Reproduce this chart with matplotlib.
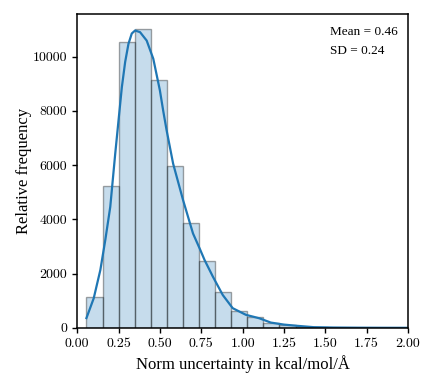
import matplotlib
matplotlib.use("Agg")
import matplotlib.pyplot as plt
import numpy as np

# Histogram data (20 bins)
bin_start = 0.056
bin_width = 0.0972
counts = [1155, 5214, 10528, 11022, 9140, 5952, 3863, 2460, 1330, 610,
          415, 172, 120, 40, 15, 8, 4, 2, 1, 1]

# KDE curve
kde_x = [0.056, 0.10, 0.14, 0.17, 0.20, 0.23, 0.25, 0.27, 0.29, 0.31, 0.33, 0.35,
         0.38, 0.42, 0.46, 0.50, 0.52, 0.54, 0.58, 0.64, 0.70, 0.74, 0.77, 0.82,
         0.88, 0.94, 1.02, 1.10, 1.17, 1.25, 1.33, 1.43, 1.55, 1.70, 1.85, 2.00]
kde_y = [360, 1090, 2130, 3240, 4460, 6420, 7650, 8870, 9800, 10470, 10850, 10960,
         10900, 10590, 9920, 8750, 8000, 7300, 6050, 4710, 3480, 2930, 2500, 1890,
         1210, 725, 480, 355, 195, 120, 75, 25, 12, 6, 3, 2]

x_ticks = [0.0, 0.25, 0.5, 0.75, 1.0, 1.25, 1.5, 1.75, 2.0]
y_ticks = [0, 2000, 4000, 6000, 8000, 10000]
stats_text = ["Mean = 0.46", "SD = 0.24"]

plt.rcParams['font.family'] = ['serif']
plt.rcParams['font.serif'] = ['cmr10', 'DejaVu Serif']
plt.rcParams['mathtext.fontset'] = 'cm'
plt.rcParams['axes.unicode_minus'] = False

fig = plt.figure(figsize=(4.36, 3.88), dpi=100)
ax = fig.add_axes([0.177, 0.155, 0.759, 0.809])

edges = [bin_start + i * bin_width for i in range(len(counts))]
ax.bar(edges, counts, width=bin_width, align='edge',
       facecolor=(0.122, 0.467, 0.706, 0.25), edgecolor=(0, 0, 0, 0.35), linewidth=1.0)
ax.plot(kde_x, kde_y, color='#1f77b4', lw=1.6)

ax.set_xlim(0, 2.0)
ax.set_ylim(0, 11570)
ax.set_xticks(x_ticks)
ax.set_xticklabels([f"{t:.2f}" for t in x_ticks])
ax.set_yticks(y_ticks)
ax.set_yticklabels([str(t) for t in y_ticks])
ax.tick_params(labelsize=10, direction='out', length=3.5, width=1.0)
for s in ax.spines.values():
    s.set_linewidth(1.1)

ax.set_xlabel("Norm uncertainty in kcal/mol/Å", fontsize=12,
              family='Liberation Serif')
ax.set_ylabel("Relative frequency", fontsize=12, family='Liberation Serif',
              labelpad=1)

ax.text(0.764, 0.943, stats_text[0], transform=ax.transAxes, fontsize=9.5,
        family='Liberation Serif', va='center', ha='left')
ax.text(0.764, 0.882, stats_text[1], transform=ax.transAxes, fontsize=9.5,
        family='Liberation Serif', va='center', ha='left')

fig.savefig("out.png", dpi=100)
